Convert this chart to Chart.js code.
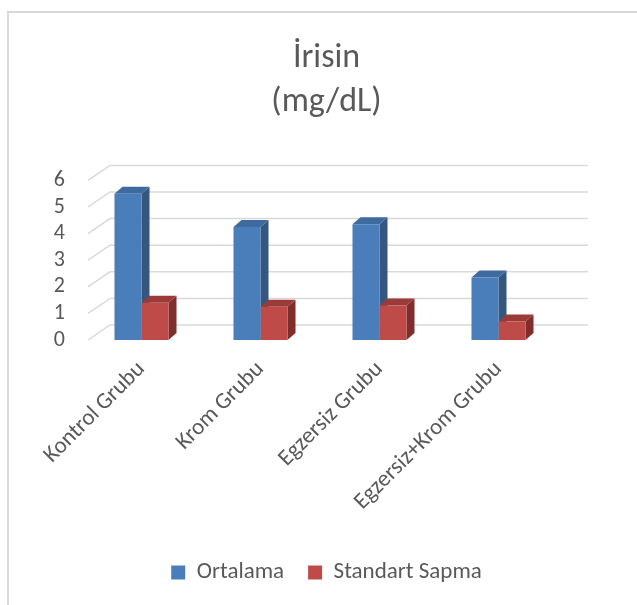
<!DOCTYPE html>
<html>
<head>
<meta charset="utf-8">
<script src="https://cdn.jsdelivr.net/npm/chart.js@4"></script>
<style>
  html, body { margin: 0; padding: 0; background: #fff; }
  #frame {
    position: absolute; left: 7px; top: 11px; width: 700px; height: 700px;
    border-left: 2px solid #d9d9d9; border-top: 2px solid #d9d9d9;
  }
  #wrap { position: absolute; left: 0; top: 0; width: 637px; height: 605px; }
</style>
</head>
<body>
<div id="frame"></div>
<div id="wrap"><canvas id="irisinChart" width="637" height="605"></canvas></div>
<script>
const categories = ['Kontrol Grubu', 'Krom Grubu', 'Egzersiz Grubu', 'Egzersiz+Krom Grubu'];
const ortalama = [5.5, 4.25, 4.35, 2.35];
const standartSapma = [1.4, 1.25, 1.3, 0.7];
const yTicks = [0, 1, 2, 3, 4, 5, 6];

const FONT = "Calibri, Carlito, 'Open Sans', sans-serif";
const TEXT = '#595959';

// depth of the fake 3D look
const DEPTH_X = 8, DEPTH_Y = -7;
const WALL_X = 22, WALL_Y = -15;

const faceColors = [
    { top: '#3e6aa0', side: '#34567f' },
    { top: '#9b3b39', side: '#7f2e2c' }
];

const fake3d = {
    id: 'fake3d',
    beforeDatasetsDraw(chart) {
        const ctx = chart.ctx;
        const area = chart.chartArea;
        const y = chart.scales.y;

        // back wall grid + floor diagonals
        ctx.save();
        ctx.strokeStyle = '#d9d9d9';
        ctx.lineWidth = 1.5;
        yTicks.forEach(v => {
            const py = y.getPixelForValue(v);
            ctx.beginPath();
            ctx.moveTo(area.left + 6, py);
            ctx.lineTo(area.left + 6 + WALL_X, py + WALL_Y);
            ctx.lineTo(area.right + 30, py + WALL_Y);
            ctx.stroke();
        });
        ctx.restore();

        // side and top faces of every bar
        chart.data.datasets.forEach((ds, i) => {
            const meta = chart.getDatasetMeta(i);
            meta.data.forEach(bar => {
                const l = bar.x - bar.width / 2, r = bar.x + bar.width / 2;
                ctx.save();
                ctx.fillStyle = faceColors[i].side;
                ctx.beginPath();
                ctx.moveTo(r, bar.y);
                ctx.lineTo(r + DEPTH_X, bar.y + DEPTH_Y);
                ctx.lineTo(r + DEPTH_X, bar.base + DEPTH_Y);
                ctx.lineTo(r, bar.base);
                ctx.closePath();
                ctx.fill();
                ctx.fillStyle = faceColors[i].top;
                ctx.beginPath();
                ctx.moveTo(l, bar.y);
                ctx.lineTo(l + DEPTH_X, bar.y + DEPTH_Y);
                ctx.lineTo(r + DEPTH_X, bar.y + DEPTH_Y);
                ctx.lineTo(r, bar.y);
                ctx.closePath();
                ctx.fill();
                ctx.restore();
            });
        });
    }
};

new Chart(document.getElementById('irisinChart'), {
    type: 'bar',
    data: {
        labels: categories,
        datasets: [
            { label: 'Ortalama', data: ortalama, backgroundColor: '#4a7ebb' },
            { label: 'Standart Sapma', data: standartSapma, backgroundColor: '#be4b48' }
        ]
    },
    options: {
        responsive: false,
        animation: false,
        categoryPercentage: 0.454,
        barPercentage: 1,
        layout: { padding: { left: 16, right: 0, top: 0, bottom: 11 } },
        plugins: {
            title: {
                display: true,
                text: ['İrisin', '(mg/dL)'],
                color: TEXT,
                font: { family: FONT, size: 34, weight: 'normal', lineHeight: 1.3 },
                padding: { top: 36, bottom: 56 }
            },
            legend: {
                position: 'bottom',
                labels: {
                    color: TEXT,
                    font: { family: FONT, size: 23 },
                    boxWidth: 14,
                    boxHeight: 14,
                    padding: 24
                }
            },
            tooltip: { enabled: false }
        },
        scales: {
            x: {
                grid: { display: false },
                border: { display: false },
                afterFit(scale) { scale.height = 197; },
                ticks: {
                    color: TEXT,
                    font: { family: FONT, size: 23 },
                    minRotation: 45,
                    maxRotation: 45,
                    autoSkip: false,
                    padding: 8
                }
            },
            y: {
                min: 0,
                max: 6,
                grid: { display: false },
                border: { display: false },
                afterFit(scale) { scale.width = 66; },
                ticks: {
                    color: TEXT,
                    font: { family: FONT, size: 22 },
                    stepSize: 1,
                    autoSkip: false,
                    padding: 9
                }
            },
            spacer: {
                position: 'right',
                display: true,
                grid: { display: false },
                border: { display: false },
                ticks: { display: false },
                afterFit(scale) { scale.width = 79; }
            }
        }
    },
    plugins: [fake3d]
});
</script>
</body>
</html>
